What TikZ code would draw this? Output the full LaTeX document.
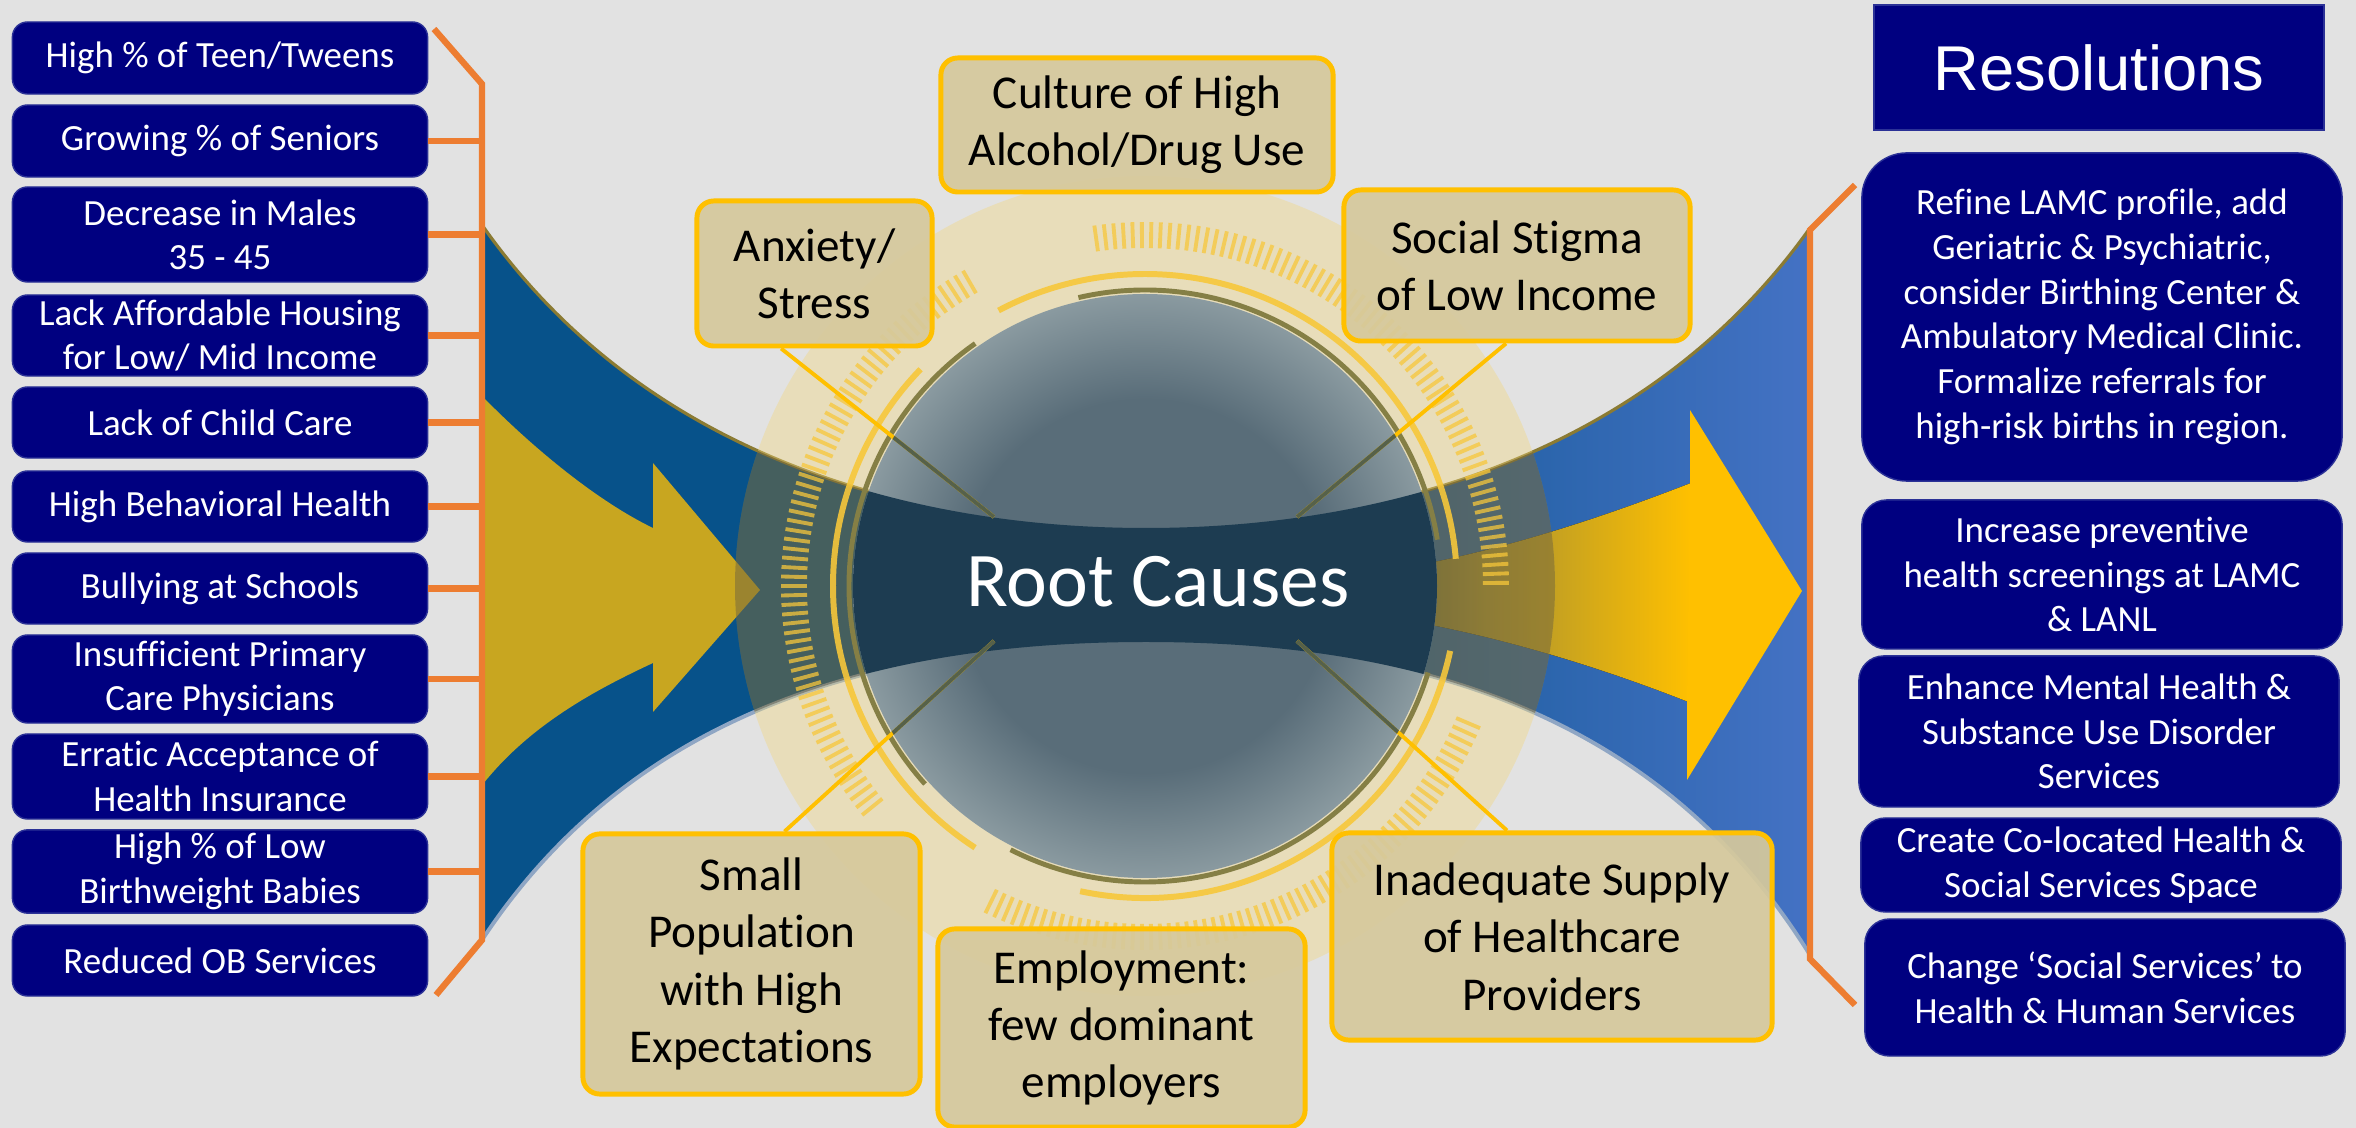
\documentclass[tikz,border=0pt]{standalone}
\usepackage{fontspec}
\setmainfont{Carlito}[Ligatures={NoCommon}]
\newfontfamily\arialfont{Liberation Sans}
\usetikzlibrary{positioning}

\definecolor{canvas}{HTML}{E2E2E2}
\definecolor{navy}{HTML}{000080}
\definecolor{navyline}{HTML}{2B3196}
\definecolor{bracketorange}{HTML}{ED7D31}
\definecolor{bandblue}{HTML}{07528A}
\definecolor{bandlight}{HTML}{4472C4}
\definecolor{bandin}{HTML}{1D3C51}
\definecolor{mustard}{HTML}{C8A620}
\definecolor{gold}{HTML}{FFC000}
\definecolor{pale}{HTML}{F2D77A}
\definecolor{causefill}{HTML}{D6C99C}
\definecolor{olive}{HTML}{857F45}
\definecolor{ringgold}{HTML}{F7C73A}
\definecolor{ballin}{HTML}{596D79}
\definecolor{ballout}{HTML}{8A9AA0}
\definecolor{edgeolive}{HTML}{8B7B33}
\definecolor{edgeblue}{HTML}{8FA6C4}
\pgfdeclareradialshading{greyball}{\pgfpoint{0bp}{0bp}}{color(0bp)=(ballin); color(16bp)=(ballin); color(25bp)=(ballout); color(50bp)=(ballout)}

\newcommand\bandpath{(482,225) .. controls (640,450) and (900,528) .. (1146,528)
  .. controls (1392,528) and (1652,450) .. (1810,228) -- (1810,955)
  .. controls (1652,700) and (1392,642) .. (1146,642)
  .. controls (900,642) and (640,700) .. (482,940) -- cycle}

\begin{document}
\begin{tikzpicture}[
    x=.01cm,
    y=-.01cm,
    issue/.style={
      rectangle, rounded corners=4.3pt,
      fill=navy, draw=navyline, line width=.4pt,
      text=white, align=center,
      minimum width=4.15cm, inner sep=1pt,
      font=\fontsize{10.5}{12.6}\selectfont,
    },
    fix/.style={
      rectangle, rounded corners=7pt,
      fill=navy, draw=navyline, line width=.4pt,
      text=white, align=center,
      minimum width=4.8cm, inner sep=1pt,
      font=\fontsize{10.5}{12.7}\selectfont,
    },
    cause/.style={
      rectangle, rounded corners=4.8pt,
      fill=causefill, fill opacity=.92, text opacity=1,
      draw=gold, line width=1.4pt,
      align=center, inner sep=2pt,
      font=\fontsize{13.4}{16.3}\selectfont,
    },
    bracket/.style={line width=1.8pt, color=bracketorange},
    link/.style={line width=1.1pt, color=gold},
    ring/.style={line width=1.7pt, color=ringgold, opacity=.9},
    rim/.style={line width=1.4pt, color=olive},
    notch/.style={line width=1.1pt, color=ringgold, opacity=.75},
  ]
    \newcommand\issue[4]{%
      \node[issue, minimum height=#3cm] (#1) at (220,#2) {#4};
    }

    \fill[canvas] (0,0) rectangle (2356,1128);
    \useasboundingbox (0,0) rectangle (2356,1128);
    \coordinate (c) at (1145,586);

    % the band
    \fill[left color=bandblue, right color=bandlight, middle color=bandblue] \bandpath;
    \draw[edgeolive, line width=.9pt] (482,225) .. controls (640,450) and (900,528) .. (1146,528)
      .. controls (1392,528) and (1652,450) .. (1810,228);
    \draw[edgeblue, line width=1.1pt] (482,940) .. controls (640,700) and (900,642) .. (1146,642)
      .. controls (1392,642) and (1652,700) .. (1810,955);

    % arrows
    \fill[mustard] (483,397) .. controls (530,445) and (595,500) .. (653,528) -- (653,463)
      -- (760,590) -- (653,712) -- (653,663) .. controls (595,690) and (530,725) .. (483,784) -- cycle;
    \fill[left color=bandin, right color=gold, middle color=olive!70!gold]
      (1280,580) .. controls (1420,578) and (1570,530) .. (1691,483) -- (1691,703)
      .. controls (1570,655) and (1420,612) .. (1280,606) -- cycle;
    \fill[gold] (1690,483) -- (1690,410) -- (1802,591) -- (1687,780) -- (1687,703) -- cycle;

    % discs
    \fill[pale, opacity=.38] (c) circle[radius=410];
    \begin{scope}
      \clip \bandpath;
      \fill[black, opacity=.28] (c) circle[radius=410];
    \end{scope}
    \shade[shading=greyball] (c) circle[radius=292];
    \begin{scope}
      \clip (c) circle[radius=292];
      \fill[bandin] \bandpath;
    \end{scope}

    % rings
    \foreach \a in {-98,-96.5,...,0} \draw[notch] (c) ++(\a:338) -- ++(\a:26);
    \foreach \a in {-219,-217.5,...,-120} \draw[notch] (c) ++(\a:338) -- ++(\a:26);
    \foreach \a in {23,24.5,...,117} \draw[notch] (c) ++(\a:338) -- ++(\a:26);
    \draw[rim] (c) ++(-103:296) arc[start angle=-103, end angle=-9, radius=296];
    \draw[rim] (c) ++(17:296) arc[start angle=17, end angle=117, radius=296];
    \draw[rim] (c) ++(-222:296) arc[start angle=-222, end angle=-125, radius=296];
    \draw[ring] (c) ++(-118:312) arc[start angle=-118, end angle=-5, radius=312];
    \draw[ring] (c) ++(-237:312) arc[start angle=-237, end angle=-136, radius=312];
    \draw[ring] (c) ++(12:312) arc[start angle=12, end angle=102, radius=312];

    % causes
    \node[cause, minimum width=3.92cm, minimum height=1.34cm] (culture) at (1137,125) {Culture of High\\Alcohol/Drug Use};
    \node[cause, minimum width=2.35cm, minimum height=1.45cm] (anxiety) at (814.5,273.5) {Anxiety/\\Stress};
    \node[cause, minimum width=3.46cm, minimum height=1.51cm] (stigma) at (1517,265.5) {Social Stigma\\of Low Income};
    \node[cause, minimum width=3.37cm, minimum height=2.6cm] (smallpop) at (751.5,964) {Small\\Population\\with High\\Expectations};
    \node[cause, minimum width=3.67cm, minimum height=1.98cm] (employ) at (1121.5,1028) {Employment:\\few dominant\\employers};
    \node[cause, minimum width=4.4cm, minimum height=2.07cm] (supply) at (1552,936.5) {Inadequate Supply\\of Healthcare\\Providers};

    \coordinate (ae) at (994,517);
    \coordinate (se) at (1297,517);
    \coordinate (pe) at (994,641);
    \coordinate (ie) at (1297,641);
    \draw[link] (anxiety.246) -- (ae);
    \draw[link] (stigma.262.5) -- (se);
    \draw[link] (smallpop.76) -- (pe);
    \draw[link] (supply.113.5) -- (ie);
    \begin{scope}
      \clip (c) circle[radius=292];
      \draw[link, color=olive!55!bandin] (anxiety.246) -- (ae);
      \draw[link, color=olive!55!bandin] (stigma.262.5) -- (se);
      \draw[link, color=olive!55!bandin] (smallpop.76) -- (pe);
      \draw[link, color=olive!55!bandin] (supply.113.5) -- (ie);
    \end{scope}

    \node[text=white, font=\fontsize{22}{26}\selectfont] (root) at (1158,582) {Root Causes};

    % issues on the left
    \issue{b1}{58}{.72}{High \% of Teen/Tweens}
    \issue{b2}{141}{.72}{Growing \% of Seniors}
    \issue{b3}{234.5}{.95}{Decrease in Males\\35 - 45}
    \issue{b4}{335.5}{.81}{Lack Affordable Housing\\for Low/ Mid Income}
    \issue{b5}{422.5}{.71}{Lack of Child Care}
    \issue{b6}{506.5}{.71}{High Behavioral Health}
    \issue{b7}{588.5}{.71}{Bullying at Schools}
    \issue{b8}{679}{.88}{Insufficient Primary\\Care Physicians}
    \issue{b9}{776.5}{.85}{Erratic Acceptance of\\Health Insurance}
    \issue{b10}{871.5}{.83}{High \% of Low\\Birthweight Babies}
    \issue{b11}{960.5}{.71}{Reduced OB Services}

    \coordinate (ltip1) at (434,29);
    \coordinate (lspine1) at (482,84);
    \coordinate (lspine2) at (482,940);
    \coordinate (ltip2) at (436,995);
    \draw[bracket] (ltip1) -- (lspine1) -- (lspine2) -- (ltip2);
    \foreach \b in {b2,b3,b4,b5,b6,b7,b8,b9,b10}
      \draw[bracket] (\b.east) -- (\b.east -| lspine1);

    % resolutions on the right
    \node[fill=navy, draw=navyline, line width=.4pt, minimum width=4.5cm, minimum height=1.25cm,
      text=white, font=\arialfont\fontsize{18}{20}\selectfont] (title) at (2099,67.5) {Resolutions};
    \node[fix, rounded corners=12.8pt, minimum height=3.28cm] (r1) at (2102,317)
      {Refine LAMC profile, add\\Geriatric \& Psychiatric,\\consider Birthing Center \&\\Ambulatory Medical Clinic.\\Formalize referrals for\\high-risk births in region.};
    \node[fix, minimum height=1.49cm] (r2) at (2102,574.5) {Increase preventive\\health screenings at LAMC\\\& LANL};
    \node[fix, minimum height=1.51cm] (r3) at (2099,731.5) {Enhance Mental Health \&\\Substance Use Disorder\\Services};
    \node[fix, minimum height=.94cm] (r4) at (2101,865) {Create Co-located Health \&\\Social Services Space};
    \node[fix, minimum height=1.37cm] (r5) at (2105,987.5) {Change ‘Social Services’ to\\Health \& Human Services};

    \coordinate (rtip1) at (1855,185);
    \coordinate (rspine1) at (1810,230);
    \coordinate (rspine2) at (1810,959);
    \coordinate (rtip2) at (1855,1005);
    \draw[bracket] (rtip1) -- (rspine1) -- (rspine2) -- (rtip2);
  \end{tikzpicture}
\end{document}
